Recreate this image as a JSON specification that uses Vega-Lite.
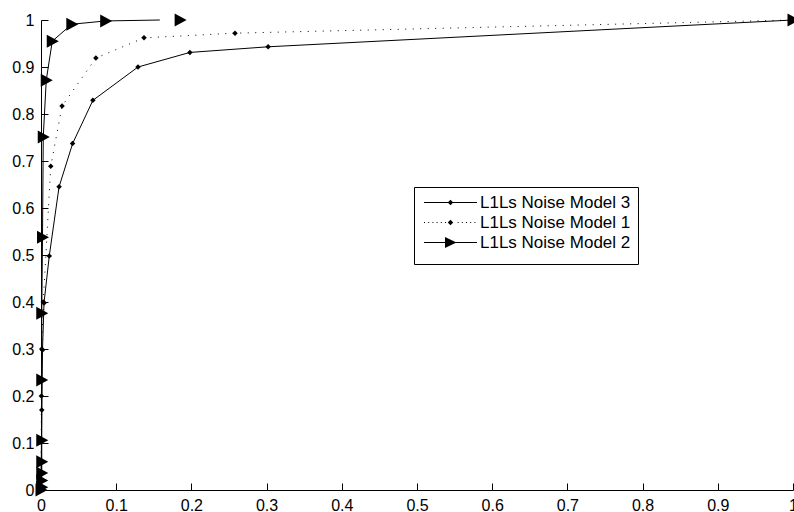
{
  "$schema": "https://vega.github.io/schema/vega-lite/v6.json",
  "width": 752,
  "height": 470,
  "autosize": {"type": "none"},
  "padding": {"left": 41, "top": 20, "right": 1, "bottom": 22},
  "background": "white",
  "config": {
    "view": {"stroke": null},
    "axis": {
      "domainColor": "black",
      "tickColor": "black",
      "labelColor": "black",
      "labelFont": "Liberation Sans",
      "labelFontSize": 16,
      "grid": false,
      "tickSize": -7,
      "labelPadding": 14,
      "labelFlush": false,
      "labelOverlap": false,
      "title": null
    }
  },
  "data": {
    "values": [
      {"series": "L1Ls Noise Model 3", "x": 0, "y": 0},
      {"series": "L1Ls Noise Model 3", "x": 0.001, "y": 0.17},
      {"series": "L1Ls Noise Model 3", "x": 0.002, "y": 0.298},
      {"series": "L1Ls Noise Model 3", "x": 0.004, "y": 0.398},
      {"series": "L1Ls Noise Model 3", "x": 0.011, "y": 0.498},
      {"series": "L1Ls Noise Model 3", "x": 0.024, "y": 0.645},
      {"series": "L1Ls Noise Model 3", "x": 0.042, "y": 0.737},
      {"series": "L1Ls Noise Model 3", "x": 0.069, "y": 0.829},
      {"series": "L1Ls Noise Model 3", "x": 0.129, "y": 0.9},
      {"series": "L1Ls Noise Model 3", "x": 0.198, "y": 0.931},
      {"series": "L1Ls Noise Model 3", "x": 0.302, "y": 0.943},
      {"series": "L1Ls Noise Model 3", "x": 1, "y": 1},
      {"series": "L1Ls Noise Model 1", "x": 0, "y": 0},
      {"series": "L1Ls Noise Model 1", "x": 0.0005, "y": 0.2},
      {"series": "L1Ls Noise Model 1", "x": 0.001, "y": 0.3},
      {"series": "L1Ls Noise Model 1", "x": 0.003, "y": 0.4},
      {"series": "L1Ls Noise Model 1", "x": 0.013, "y": 0.689},
      {"series": "L1Ls Noise Model 1", "x": 0.028, "y": 0.817},
      {"series": "L1Ls Noise Model 1", "x": 0.073, "y": 0.919},
      {"series": "L1Ls Noise Model 1", "x": 0.137, "y": 0.962},
      {"series": "L1Ls Noise Model 1", "x": 0.258, "y": 0.972},
      {"series": "L1Ls Noise Model 1", "x": 1, "y": 1},
      {"series": "L1Ls Noise Model 2", "x": 0, "y": 0},
      {"series": "L1Ls Noise Model 2", "x": 0.001, "y": 0.006},
      {"series": "L1Ls Noise Model 2", "x": 0.001, "y": 0.02},
      {"series": "L1Ls Noise Model 2", "x": 0.001, "y": 0.036},
      {"series": "L1Ls Noise Model 2", "x": 0.001, "y": 0.06},
      {"series": "L1Ls Noise Model 2", "x": 0.001, "y": 0.106},
      {"series": "L1Ls Noise Model 2", "x": 0.001, "y": 0.234},
      {"series": "L1Ls Noise Model 2", "x": 0.001, "y": 0.376},
      {"series": "L1Ls Noise Model 2", "x": 0.002, "y": 0.538},
      {"series": "L1Ls Noise Model 2", "x": 0.003, "y": 0.751},
      {"series": "L1Ls Noise Model 2", "x": 0.007, "y": 0.872},
      {"series": "L1Ls Noise Model 2", "x": 0.015, "y": 0.955},
      {"series": "L1Ls Noise Model 2", "x": 0.041, "y": 0.991},
      {"series": "L1Ls Noise Model 2", "x": 0.086, "y": 0.998},
      {"series": "L1Ls Noise Model 2", "x": 0.158, "y": 1.0, "m": false},
      {"series": "L1Ls Noise Model 2", "x": 0.185, "y": 1.0, "l": false},
      {"series": "L1Ls Noise Model 2", "x": 1, "y": 1, "l": false}
    ]
  },
  "encoding": {
    "x": {"field": "x", "type": "quantitative", "scale": {"domain": [0, 1], "nice": false}, "axis": {"values": [0, 0.1, 0.2, 0.3, 0.4, 0.5, 0.6, 0.7, 0.8, 0.9, 1], "format": "~g"}},
    "y": {"field": "y", "type": "quantitative", "scale": {"domain": [0, 1], "nice": false}, "axis": {"values": [0, 0.1, 0.2, 0.3, 0.4, 0.5, 0.6, 0.7, 0.8, 0.9, 1], "format": "~g"}}
  },
  "layer": [
    {
      "transform": [{"filter": "datum.l !== false && datum.series !== 'L1Ls Noise Model 1'"}],
      "mark": {"type": "line", "stroke": "black", "strokeWidth": 1},
      "encoding": {
        "detail": {"field": "series", "type": "nominal"},
        "order": {"field": "y", "type": "quantitative"}
      }
    },
    {
      "transform": [{"filter": "datum.series === 'L1Ls Noise Model 1'"}],
      "mark": {"type": "line", "stroke": "black", "strokeWidth": 1, "strokeDash": [1, 6.5]},
      "encoding": {
        "order": {"field": "y", "type": "quantitative"}
      }
    },
    {
      "transform": [{"filter": "datum.m !== false && datum.series !== 'L1Ls Noise Model 2'"}],
      "mark": {"type": "point", "filled": true, "fill": "black", "fillOpacity": 1, "strokeWidth": 0, "size": 100, "shape": "M0,-0.55L0.55,0L0,0.55L-0.55,0Z"}
    },
    {
      "transform": [{"filter": "datum.m !== false && datum.series === 'L1Ls Noise Model 2'"}],
      "mark": {"type": "point", "filled": true, "fill": "black", "fillOpacity": 1, "strokeWidth": 0, "size": 100, "shape": "M-1.1,-1.3L1.3,0L-1.1,1.3Z"}
    },
    {
      "transform": [{"filter": "false"}],
      "mark": {"type": "point", "filled": true, "fill": "black", "fillOpacity": 1, "strokeWidth": 0, "size": 100},
      "encoding": {
        "shape": {
          "field": "series", "type": "nominal",
          "scale": {"domain": ["L1Ls Noise Model 3", "L1Ls Noise Model 1", "L1Ls Noise Model 2"], "range": [
            "M-5.3,-0.1L5.3,-0.1L5.3,0.1L-5.3,0.1ZM0,-0.55L0.55,0L0,0.55L-0.55,0Z",
            "M-5.3,-0.1h0.2v0.2h-0.2zM-4.46,-0.1h0.2v0.2h-0.2zM-3.62,-0.1h0.2v0.2h-0.2zM-2.78,-0.1h0.2v0.2h-0.2zM-1.94,-0.1h0.2v0.2h-0.2zM-1.1,-0.1h0.2v0.2h-0.2zM1.42,-0.1h0.2v0.2h-0.2zM2.26,-0.1h0.2v0.2h-0.2zM3.1,-0.1h0.2v0.2h-0.2zM3.94,-0.1h0.2v0.2h-0.2zM4.78,-0.1h0.2v0.2h-0.2zM0,-0.55L0.55,0L0,0.55L-0.55,0Z",
            "M-5.3,-0.1L5.3,-0.1L5.3,0.1L-5.3,0.1ZM-1.1,-1.1L1.2,0L-1.1,1.1Z"
          ]},
          "legend": {
            "orient": "none",
            "legendX": 373,
            "legendY": 167,
            "title": " ",
            "titleOrient": "bottom",
            "titleFontSize": 6,
            "titlePadding": 0,
            "strokeColor": "black",
            "fillColor": "white",
            "padding": 7,
            "cornerRadius": 0,
            "labelFont": "Liberation Sans",
            "labelFontSize": 17,
            "labelColor": "black",
            "labelLimit": 300,
            "symbolSize": 100,
            "symbolStrokeWidth": 0,
            "symbolFillColor": "black",
            "symbolOpacity": 1,
            "symbolOffset": 21,
            "labelOffset": 21,
            "rowPadding": 2
          }
        }
      }
    }
  ]
}
